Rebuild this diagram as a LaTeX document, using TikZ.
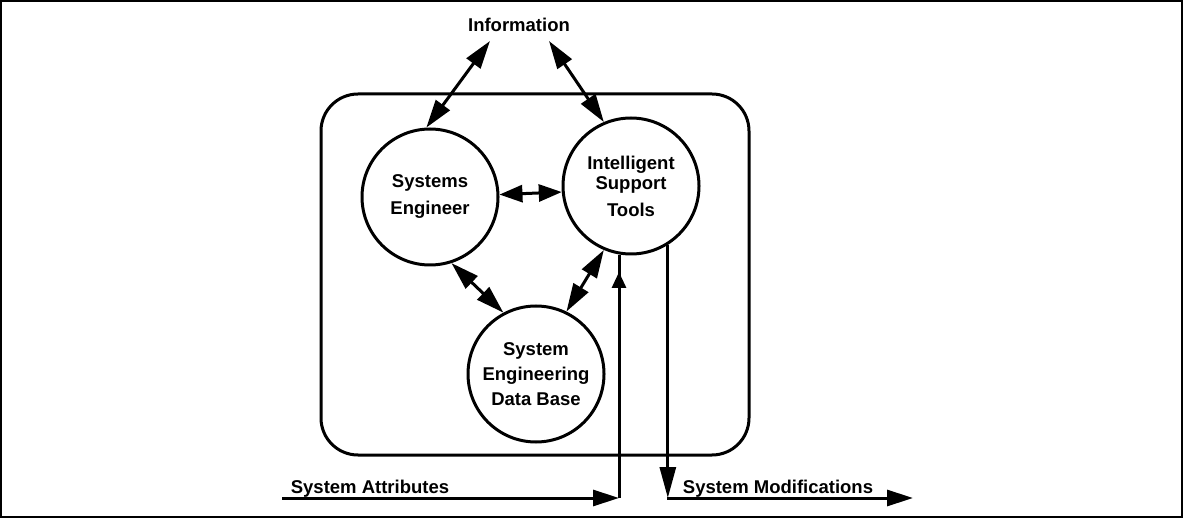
\documentclass[tikz,border=0pt]{standalone}
\usepackage{fontspec}
\setmainfont{Liberation Sans}
\usetikzlibrary{arrows.meta}

\begin{document}
\begin{tikzpicture}[x=1pt,y=-1pt, every node/.style={font=\bfseries\fontsize{18.5}{25}\selectfont,align=center,inner sep=0pt}, circ/.style={draw,circle,line width=3pt,minimum size=136pt}, dbl/.style={{Triangle[length=28pt,width=17pt]}-{Triangle[length=28pt,width=17pt]},line width=3pt}, dblshort/.style={{Triangle[length=23pt,width=17pt]}-{Triangle[length=23pt,width=17pt]},line width=3pt}, arr/.style={-{Triangle[length=26pt,width=16pt]},line width=3pt}, arrlong/.style={-{Triangle[length=31pt,width=16pt]},line width=3pt}, arrsmall/.style={-{Triangle[length=16pt,width=14pt]},line width=3pt}]
\useasboundingbox (0,0) rectangle (1183,518);
\draw[line width=2pt] (1,1.5) rectangle (1181.5,516.5);
\draw[line width=3pt,rounded corners=37pt] (321,94) rectangle (749,455);
\node (info) at (519,25) {Information};
\node[circ] (se) at (430,197) {Systems\\[2pt]Engineer};
\node[circ] (ist) at (631,186) {Intelligent\\[-5pt]Support\\[2pt]Tools};
\node[circ] (db) at (536,374) {System\\Engineering\\Data Base};
\node (attr) at (370,489) {System Attributes};
\node (mods) at (778,489) {System Modifications};
\coordinate (ain) at (282,498); \coordinate (aturn) at (619,498);
\coordinate (mturn) at (667,498); \coordinate (mout) at (913,498);
\draw[dbl] ([xshift=-29pt,yshift=-9pt]info.south) -- (se.93); \draw[dbl] ([xshift=30pt,yshift=-9pt]info.south) -- (ist.113);
\draw[dblshort] (se.2) -- (ist.185);
\draw[dbl] (se.-72) -- (db.118); \draw[dbl] (ist.-113) -- (db.64);
\draw[arr] (ain) -- (aturn);
\draw[line width=3pt] (aturn) -- (aturn |- ist.south); \draw[arrsmall] (aturn) -- ++(0,-226);
\draw[arrlong] (ist.-58) -- (ist.-58 |- mturn);
\draw[arr] (mturn) -- (mout);
\end{tikzpicture}
\end{document}
